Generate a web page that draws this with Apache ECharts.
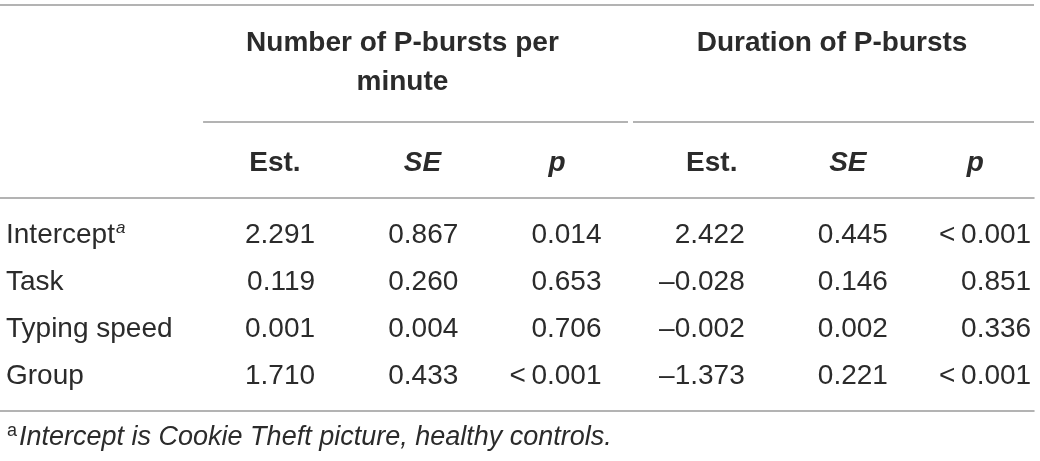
<!DOCTYPE html>
<html>
<head>
<meta charset="utf-8">
<script src="https://cdn.jsdelivr.net/npm/echarts@6.0.0/dist/echarts.min.js"></script>
<style>
  html, body { margin: 0; padding: 0; background: #fff; }
  #table { width: 1040px; height: 461px; }
</style>
</head>
<body>
<div id="table"></div>
<script>
// table contents
const rowLabels = ['Intercept', 'Task', 'Typing speed', 'Group'];
const rowNotes = ['a', '', '', ''];
const groupHeaders = ['Number of P-bursts per\nminute', 'Duration of P-bursts'];
const colHeaders = ['Est.', 'SE', 'p', 'Est.', 'SE', 'p'];
const colHeaderItalic = [false, true, true, false, true, true];

const countEst = [2.291, 0.119, 0.001, 1.710];
const countSE = [0.867, 0.260, 0.004, 0.433];
const countP = ['0.014', '0.653', '0.706', '<0.001'];
const durEst = [2.422, -0.028, -0.002, -1.373];
const durSE = [0.445, 0.146, 0.002, 0.221];
const durP = ['<0.001', '0.851', '0.336', '<0.001'];

const footnoteMark = 'a';
const footnote = 'Intercept is Cookie Theft picture, healthy controls.';

const FONT = '"Liberation Sans", Arial, sans-serif';
const TEXT = '#2b2b2b';
const RULE = '#9a9a9a';
// header text sits a little left of each column's right edge
const headerShift = [-0.28, -0.25, -0.31, -0.23, -0.28, -0.39];

function fmt(v) {
  if (typeof v === 'string') return v.replace('<', '<\u2009');
  return v < 0 ? '\u2013' + Math.abs(v).toFixed(3) : v.toFixed(3);
}

const columns = [countEst, countSE, countP, durEst, durSE, durP];
const cells = [];
columns.forEach((col, c) => {
  col.forEach((v, r) => cells.push([c + 1, r, fmt(v)]));
});
const labelCells = rowLabels.map((name, r) => [-1.2, r, name, rowNotes[r]]);

const chart = echarts.init(document.getElementById('table'), null, { renderer: 'canvas' });

const hiddenAxis = {
  axisTick: { show: false },
  axisLabel: { show: false },
  splitLine: { show: false }
};

chart.setOption({
  animation: false,
  backgroundColor: '#fff',
  grid: { left: 0, right: 6, top: 198, bottom: 50 },
  xAxis: [
    {
      type: 'value', position: 'top', min: -1.2, max: 6.02,
      axisLine: { show: true, onZero: false, lineStyle: { color: RULE, width: 1.5 } },
      ...hiddenAxis
    },
    {
      type: 'value', position: 'bottom', min: -1.2, max: 6.02,
      axisLine: { show: true, onZero: false, lineStyle: { color: RULE, width: 1.5 } },
      ...hiddenAxis
    }
  ],
  yAxis: {
    type: 'value', inverse: true, min: -0.766, max: 3.766,
    axisLine: { show: false },
    ...hiddenAxis
  },
  series: [
    {
      name: 'values',
      type: 'custom',
      data: cells.map((c) => [c[0], c[1]]),
      renderItem(params, api) {
        const p = api.coord([api.value(0), api.value(1)]);
        return {
          type: 'text',
          x: p[0],
          y: p[1] + 1,
          style: {
            text: cells[params.dataIndex][2],
            fill: TEXT,
            font: `28px ${FONT}`,
            align: 'right',
            verticalAlign: 'middle'
          }
        };
      }
    },
    {
      name: 'labels',
      type: 'custom',
      data: labelCells.map((c) => [c[0], c[1]]),
      renderItem(params, api) {
        const p = api.coord([api.value(0), api.value(1)]);
        const cell = labelCells[params.dataIndex];
        const text = cell[3] ? `{n|${cell[2]}}{s|${cell[3]}}` : `{n|${cell[2]}}`;
        return {
          type: 'text',
          x: p[0] + 6,
          y: p[1] + 1,
          style: {
            text,
            fill: TEXT,
            align: 'left',
            verticalAlign: 'middle',
            rich: {
              n: { fontSize: 28, fontFamily: FONT, fill: TEXT, lineHeight: 30 },
              s: { fontSize: 17, fontFamily: FONT, fontStyle: 'italic', fill: TEXT, verticalAlign: 'top', lineHeight: 18, padding: [0, 0, 0, 1] }
            }
          }
        };
      }
    }
  ]
});

// header and footnote, placed with the x axis scale
const xPix = (k) => chart.convertToPixel({ xAxisIndex: 0 }, k);
const graphics = [];

graphics.push({
  type: 'line', shape: { x1: 0, y1: 5, x2: xPix(6.02), y2: 5 },
  style: { stroke: RULE, lineWidth: 1.5 }
});

[[2, groupHeaders[0]], [5, groupHeaders[1]]].forEach(([k, text]) => {
  graphics.push({
    type: 'text', x: xPix(k - 0.39), y: text.includes('\n') ? 63 : 43.5,
    style: { text, font: `bold 28px ${FONT}`, fill: TEXT, align: 'center', verticalAlign: 'middle', lineHeight: 39 }
  });
});

[[0.218, 3.185], [3.22, 6.02]].forEach(([a, b]) => {
  graphics.push({
    type: 'line', shape: { x1: xPix(a), y1: 122, x2: xPix(b), y2: 122 },
    style: { stroke: RULE, lineWidth: 1.5 }
  });
});

colHeaders.forEach((h, i) => {
  graphics.push({
    type: 'text', x: xPix(i + 1 + headerShift[i]), y: 163,
    style: {
      text: h,
      font: `${colHeaderItalic[i] ? 'italic ' : ''}bold 28px ${FONT}`,
      fill: TEXT, align: 'center', verticalAlign: 'middle'
    }
  });
});

graphics.push({
  type: 'text', x: 7, y: 437,
  style: {
    text: `{s|${footnoteMark}}{t|${footnote}}`,
    align: 'left', verticalAlign: 'middle',
    rich: {
      s: { fontSize: 18, fontFamily: FONT, fill: TEXT, verticalAlign: 'top', lineHeight: 20 },
      t: { fontSize: 27, fontFamily: FONT, fontStyle: 'italic', fill: TEXT, lineHeight: 30, padding: [0, 0, 0, 2] }
    }
  }
});

chart.setOption({ graphic: graphics });
</script>
</body>
</html>
